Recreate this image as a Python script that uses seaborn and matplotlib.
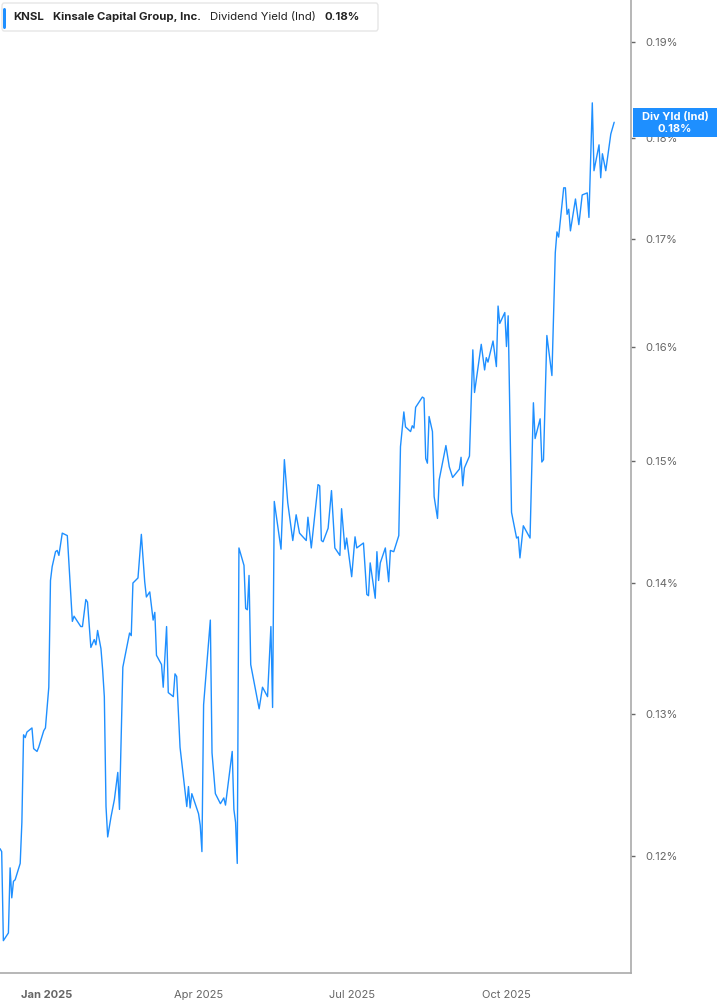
import pandas as pd
import matplotlib
matplotlib.use('Agg')
import matplotlib.pyplot as plt
import matplotlib.ticker as mticker
from matplotlib.patches import FancyBboxPatch, Rectangle
import seaborn as sns

# 读取数据
dates = [
    '2024-12-04', '2024-12-05', '2024-12-06', '2024-12-09', '2024-12-10', '2024-12-11', '2024-12-12',
    '2024-12-13', '2024-12-16', '2024-12-17', '2024-12-18', '2024-12-19', '2024-12-20', '2024-12-23',
    '2024-12-24', '2024-12-26', '2024-12-27', '2024-12-30', '2024-12-31', '2025-01-02', '2025-01-03',
    '2025-01-04', '2025-01-06', '2025-01-07', '2025-01-08', '2025-01-10', '2025-01-13', '2025-01-15',
    '2025-01-16', '2025-01-17', '2025-01-21', '2025-01-22', '2025-01-24', '2025-01-25', '2025-01-27',
    '2025-01-29', '2025-01-30', '2025-01-31', '2025-02-02', '2025-02-03', '2025-02-04', '2025-02-05',
    '2025-02-06', '2025-02-08', '2025-02-10', '2025-02-12', '2025-02-13', '2025-02-15', '2025-02-19',
    '2025-02-20', '2025-02-21', '2025-02-24', '2025-02-26', '2025-02-28', '2025-03-01', '2025-03-03',
    '2025-03-05', '2025-03-06', '2025-03-07', '2025-03-10', '2025-03-11', '2025-03-13', '2025-03-14',
    '2025-03-17', '2025-03-18', '2025-03-19', '2025-03-21', '2025-03-25', '2025-03-26', '2025-03-27',
    '2025-03-28', '2025-04-01', '2025-04-02', '2025-04-03', '2025-04-04', '2025-04-08', '2025-04-09',
    '2025-04-11', '2025-04-14', '2025-04-16', '2025-04-17', '2025-04-21', '2025-04-22', '2025-04-23',
    '2025-04-24', '2025-04-25', '2025-04-28', '2025-04-29', '2025-04-30', '2025-05-01', '2025-05-02',
    '2025-05-07', '2025-05-09', '2025-05-12', '2025-05-14', '2025-05-15', '2025-05-16', '2025-05-20',
    '2025-05-22', '2025-05-24', '2025-05-27', '2025-05-29', '2025-05-31', '2025-06-04', '2025-06-05',
    '2025-06-07', '2025-06-11', '2025-06-12', '2025-06-13', '2025-06-14', '2025-06-17', '2025-06-19',
    '2025-06-21', '2025-06-24', '2025-06-25', '2025-06-27', '2025-06-28', '2025-07-01', '2025-07-03',
    '2025-07-04', '2025-07-08', '2025-07-10', '2025-07-11', '2025-07-12', '2025-07-15', '2025-07-16',
    '2025-07-17', '2025-07-18', '2025-07-21', '2025-07-23', '2025-07-24', '2025-07-26', '2025-07-29',
    '2025-07-30', '2025-08-01', '2025-08-02', '2025-08-05', '2025-08-06', '2025-08-07', '2025-08-08',
    '2025-08-12', '2025-08-13', '2025-08-14', '2025-08-15', '2025-08-16', '2025-08-18', '2025-08-19',
    '2025-08-21', '2025-08-22', '2025-08-26', '2025-08-28', '2025-08-30', '2025-09-03', '2025-09-04',
    '2025-09-05', '2025-09-06', '2025-09-09', '2025-09-11', '2025-09-12', '2025-09-16', '2025-09-18',
    '2025-09-19', '2025-09-20', '2025-09-23', '2025-09-25', '2025-09-26', '2025-09-27', '2025-09-30',
    '2025-10-01', '2025-10-02', '2025-10-04', '2025-10-07', '2025-10-08', '2025-10-09', '2025-10-11',
    '2025-10-15', '2025-10-17', '2025-10-18', '2025-10-21', '2025-10-22', '2025-10-23', '2025-10-25',
    '2025-10-28', '2025-10-30', '2025-10-31', '2025-11-01', '2025-11-04', '2025-11-05', '2025-11-06',
    '2025-11-07', '2025-11-08', '2025-11-11', '2025-11-13', '2025-11-15', '2025-11-18', '2025-11-19',
    '2025-11-21', '2025-11-22', '2025-11-25', '2025-11-26', '2025-11-27', '2025-11-29', '2025-12-02',
    '2025-12-04',
]

div_yield = [
    0.1205, 0.1203, 0.1144, 0.1149, 0.1192, 0.1172, 0.1183,
    0.1184, 0.1195, 0.1223, 0.1285, 0.1283, 0.1287, 0.1290,
    0.1275, 0.1273, 0.1276, 0.1288, 0.1290, 0.1320, 0.1402,
    0.1413, 0.1425, 0.1426, 0.1422, 0.1440, 0.1438, 0.1393,
    0.1370, 0.1374, 0.1366, 0.1366, 0.1387, 0.1385, 0.1350,
    0.1356, 0.1352, 0.1363, 0.1349, 0.1333, 0.1313, 0.1234,
    0.1213, 0.1227, 0.1239, 0.1258, 0.1232, 0.1335, 0.1361,
    0.1359, 0.1400, 0.1404, 0.1439, 0.1401, 0.1389, 0.1393,
    0.1371, 0.1377, 0.1344, 0.1337, 0.1320, 0.1366, 0.1316,
    0.1313, 0.1330, 0.1328, 0.1276, 0.1234, 0.1248, 0.1233,
    0.1243, 0.1229, 0.1221, 0.1203, 0.1307, 0.1371, 0.1272,
    0.1243, 0.1236, 0.1240, 0.1235, 0.1273, 0.1232, 0.1223,
    0.1195, 0.1428, 0.1414, 0.1380, 0.1379, 0.1406, 0.1337,
    0.1304, 0.1320, 0.1313, 0.1366, 0.1305, 0.1466, 0.1427,
    0.1501, 0.1465, 0.1434, 0.1455, 0.1440, 0.1434, 0.1453,
    0.1428, 0.1480, 0.1479, 0.1434, 0.1433, 0.1444, 0.1475,
    0.1428, 0.1422, 0.1460, 0.1427, 0.1436, 0.1405, 0.1437,
    0.1428, 0.1432, 0.1391, 0.1390, 0.1416, 0.1388, 0.1425,
    0.1402, 0.1416, 0.1428, 0.1401, 0.1426, 0.1425, 0.1438,
    0.1512, 0.1542, 0.1529, 0.1525, 0.1530, 0.1528, 0.1546,
    0.1555, 0.1554, 0.1502, 0.1498, 0.1538, 0.1525, 0.1470,
    0.1452, 0.1484, 0.1513, 0.1495, 0.1486, 0.1493, 0.1503,
    0.1479, 0.1494, 0.1504, 0.1597, 0.1559, 0.1602, 0.1579,
    0.1590, 0.1586, 0.1605, 0.1582, 0.1637, 0.1621, 0.1631,
    0.1600, 0.1628, 0.1457, 0.1436, 0.1437, 0.1420, 0.1446,
    0.1436, 0.1550, 0.1519, 0.1536, 0.1499, 0.1501, 0.1610,
    0.1574, 0.1687, 0.1707, 0.1702, 0.1750, 0.1750, 0.1724,
    0.1729, 0.1708, 0.1739, 0.1714, 0.1743, 0.1745, 0.1721,
    0.1836, 0.1767, 0.1793, 0.1760, 0.1784, 0.1767, 0.1804,
    0.1816,
]

y_ticks = [0.12, 0.13, 0.14, 0.15, 0.16, 0.17, 0.18, 0.19]
y_tick_labels = ['0.12%', '0.13%', '0.14%', '0.15%', '0.16%', '0.17%', '0.18%', '0.19%']
x_ticks = ['2025-01-01', '2025-04-01', '2025-07-01', '2025-10-01']
x_tick_labels = ['Jan 2025', 'Apr 2025', 'Jul 2025', 'Oct 2025']

ticker = 'KNSL'
company = 'Kinsale Capital Group, Inc.'
metric = 'Dividend Yield (Ind)'
last_label = '0.18%'

df = pd.DataFrame({'date': pd.to_datetime(dates), 'yield': div_yield})

# 绘图
sns.set_style('white')
plt.rcParams['font.family'] = ['Inter', 'DejaVu Sans']

blue = '#1E8FFF'
W, H = 717, 1005
fig = plt.figure(figsize=(W / 100, H / 100), dpi=100)
ax = fig.add_axes([0, 1 - 973 / H, 631 / W, 973 / H])

sns.lineplot(data=df, x='date', y='yield', ax=ax, color=blue, linewidth=1.0)

ax.set_yscale('log')
ax.set_ylim(0.11233, 0.19458)
ax.set_xlim(pd.Timestamp('2024-12-04'), pd.Timestamp('2025-12-14'))

ax.yaxis.tick_right()
ax.yaxis.set_major_locator(mticker.FixedLocator(y_ticks))
ax.yaxis.set_major_formatter(mticker.FixedFormatter(y_tick_labels))
ax.yaxis.set_minor_locator(mticker.NullLocator())
ax.set_xticks(pd.to_datetime(x_ticks))
ax.set_xticklabels(x_tick_labels)

ax.tick_params(axis='y', which='major', direction='out', length=3, width=1,
               color='#666666', labelcolor='#666666', labelsize=8, pad=7)
ax.tick_params(axis='x', which='major', direction='out', length=4, width=1,
               color='#888888', labelcolor='#666666', labelsize=8, pad=8)
ax.get_xticklabels()[0].set_fontweight('bold')

for side in ['top', 'left']:
    ax.spines[side].set_visible(False)
for side in ['right', 'bottom']:
    ax.spines[side].set_color('#aaaaaa')
    ax.spines[side].set_linewidth(1.2)

ax.set_xlabel('')
ax.set_ylabel('')


def fx(px):
    return px / W


def fy(py):
    return 1 - py / H


# 左上角的图例框
fig.patches.append(FancyBboxPatch((fx(2), fy(31)), fx(376), 28 / H,
                                  boxstyle='round,pad=0,rounding_size=0.003',
                                  transform=fig.transFigure, facecolor='white',
                                  edgecolor='#e6e6e6', linewidth=1, zorder=5))
fig.patches.append(FancyBboxPatch((fx(3), fy(29)), fx(3), 21 / H,
                                  boxstyle='round,pad=0,rounding_size=0.002',
                                  transform=fig.transFigure, facecolor=blue,
                                  edgecolor='none', zorder=6))

# 图例文字依次排开，用渲染宽度计算下一段的位置
renderer = fig.canvas.get_renderer()
pieces = [(ticker, 'bold'), (company, 'bold'), (metric, 'normal'), (last_label, 'bold')]
x_px = 13
for txt, weight in pieces:
    t = fig.text(fx(x_px), fy(17), txt, fontsize=8.2, fontweight=weight,
                 color='#222222', va='center', zorder=7)
    x_px += t.get_window_extent(renderer).width + 9

# 右侧最新值标签
fig.patches.append(Rectangle((fx(633), fy(137)), fx(84), 29 / H, transform=fig.transFigure,
                             facecolor=blue, edgecolor='none', zorder=6))
fig.text(fx(675), fy(117), 'Div Yld (Ind)', fontsize=8, fontweight='bold', color='white',
         ha='center', va='center', zorder=7)
fig.text(fx(675), fy(128.5), last_label, fontsize=8, fontweight='bold', color='white',
         ha='center', va='center', zorder=7)

fig.savefig('out.png', dpi=100)
